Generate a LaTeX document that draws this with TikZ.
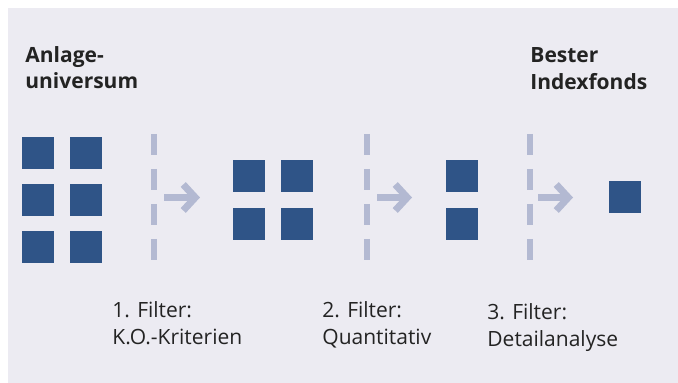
\documentclass[tikz,border=0pt]{standalone}
\usepackage{fontspec}
\setmainfont{Open Sans}
\usetikzlibrary{arrows.meta}
\definecolor{hintergrund}{RGB}{236,235,242}
\definecolor{indexblau}{RGB}{47,84,135}
\definecolor{filtergrau}{RGB}{179,185,210}
\definecolor{textgrau}{RGB}{35,35,35}
\tikzset{
	fonds/.style={fill=indexblau, minimum size=16pt, inner sep=0pt},
	filterlinie/.style={line width=3pt, filtergrau, dash pattern=on 10.5pt off 7pt},
	filterpfeil/.style={line width=3.5pt, filtergrau, -{Straight Barb[length=6pt, width=13pt]}},
	beschriftung/.style={anchor=base west, inner sep=0pt, align=left, text=textgrau, font=\fontsize{10.5}{13.6}\selectfont}
}
\begin{document}
\begin{tikzpicture}[x=0.5pt, y=-0.5pt]
				\useasboundingbox (0,0) rectangle (678,383);
				\fill[hintergrund] (8,8) rectangle (678,383);
				% Anlageuniversum
				\node[fonds] (a11) at (38,153) {};
				\node[fonds] (a12) at (86,153) {};
				\node[fonds] (a21) at (38,200) {};
				\node[fonds] (a22) at (86,200) {};
				\node[fonds] (a31) at (38,247) {};
				\node[fonds] (a32) at (86,247) {};
				% nach Filter 1
				\node[fonds] (b11) at (249,176) {};
				\node[fonds] (b12) at (297,176) {};
				\node[fonds] (b21) at (249,224) {};
				\node[fonds] (b22) at (297,224) {};
				% nach Filter 2
				\node[fonds] (c1) at (462,176) {};
				\node[fonds] (c2) at (462,224) {};
				% bester Indexfonds
				\node[fonds] (d1) at (625,197) {};
				% Filter
				\coordinate (f1o) at (154,134);
				\coordinate (f1u) at (154,261);
				\coordinate (f2o) at (366.5,134);
				\coordinate (f2u) at (366.5,261);
				\coordinate (f3o) at (529.5,134);
				\coordinate (f3u) at (529.5,261);
				\draw[filterlinie] (f1o) -- (f1u);
				\draw[filterlinie] (f2o) -- (f2u);
				\draw[filterlinie] (f3o) -- (f3u);
				\coordinate (p1a) at (164,197.5);
				\coordinate (p1b) at (200,197.5);
				\coordinate (p2a) at (377,197.5);
				\coordinate (p2b) at (412,197.5);
				\coordinate (p3a) at (538,197.5);
				\coordinate (p3b) at (573,197.5);
				\draw[filterpfeil] (p1a) -- (p1b);
				\draw[filterpfeil] (p2a) -- (p2b);
				\draw[filterpfeil] (p3a) -- (p3b);
				% Beschriftung (Anker: Grundlinie der letzten Zeile)
				\node[beschriftung, font=\bfseries\fontsize{10.5}{13}\selectfont] (anlage) at (25,89) {Anlage-\\universum};
				\node[beschriftung, font=\bfseries\fontsize{10.5}{13.8}\selectfont] (bester) at (530,90) {Bester\\Indexfonds};
				\node[beschriftung] (filter1) at (112,345) {1. Filter:\\K.O.-Kriterien};
				\node[beschriftung] (filter2) at (322,345) {2. Filter:\\Quantitativ};
				\node[beschriftung] (filter3) at (487,347) {3. Filter:\\Detailanalyse};
\end{tikzpicture}
\end{document}
